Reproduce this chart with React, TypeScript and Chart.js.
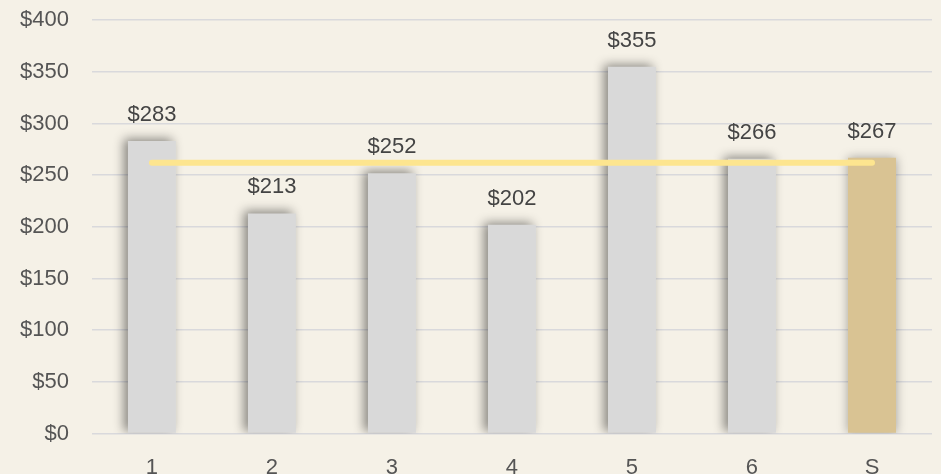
import React, { useEffect, useRef } from "react";
import { Chart, registerables } from "chart.js";

Chart.register(...registerables);

const categories = ["1", "2", "3", "4", "5", "6", "S"];
const roundValues = [283, 213, 252, 202, 355, 266, null];
const summaryValues = [null, null, null, null, null, null, 267];
const averageValues = [262, 262, 262, 262, 262, 262, 262];
const yTicks = [0, 50, 100, 150, 200, 250, 300, 350, 400];

const FONT = "'Liberation Sans', Arial, sans-serif";
const FSIZE = 22;

const shadowPlugin = {
  id: "barShadow",
  beforeDatasetDraw(chart: any, args: any) {
    const ds = chart.data.datasets[args.index] as any;
    const ctx = chart.ctx;
    ctx.save();
    if (ds.shadowKind === "dark") {
      ctx.shadowColor = "rgba(0,0,0,0.45)";
      ctx.shadowBlur = 10;
      ctx.shadowOffsetX = -4;
      ctx.shadowOffsetY = -2;
    } else if (ds.shadowKind === "light") {
      ctx.shadowColor = "rgba(0,0,0,0.35)";
      ctx.shadowBlur = 10;
      ctx.shadowOffsetX = 0;
      ctx.shadowOffsetY = 0;
    }
  },
  afterDatasetDraw(chart: any) {
    chart.ctx.restore();
  },
};

const labelPlugin = {
  id: "barLabels",
  afterDatasetsDraw(chart: any) {
    const ctx = chart.ctx;
    ctx.save();
    ctx.font = `${FSIZE}px ${FONT}`;
    ctx.fillStyle = "#444444";
    ctx.textAlign = "center";
    ctx.textBaseline = "alphabetic";
    chart.data.datasets.forEach((ds: any, i: number) => {
      if (ds.type !== "bar") return;
      const meta = chart.getDatasetMeta(i);
      meta.data.forEach((el: any, j: number) => {
        const v = ds.data[j];
        if (v == null) return;
        ctx.fillText("$" + v, el.x, el.y - 20);
      });
    });
    ctx.restore();
  },
};

export default function App() {
  const ref = useRef<HTMLCanvasElement>(null);
  useEffect(() => {
    document.body.style.margin = "0";
    document.body.style.overflow = "hidden";
    document.body.style.background = "#f5f1e7";
    const chart = new Chart(ref.current!, {
      type: "bar",
      data: {
        labels: categories,
        datasets: [
          {
            type: "line",
            data: averageValues,
            borderColor: "#fde58f",
            borderWidth: 6,
            borderCapStyle: "round",
            pointRadius: 0,
            order: 0,
          } as any,
          {
            type: "bar",
            data: roundValues,
            backgroundColor: "#d9d9d9",
            categoryPercentage: 0.8,
            barPercentage: 0.5,
            grouped: false,
            shadowKind: "dark",
            order: 2,
          } as any,
          {
            type: "bar",
            data: summaryValues,
            backgroundColor: "#d9c393",
            categoryPercentage: 0.8,
            barPercentage: 0.5,
            grouped: false,
            shadowKind: "light",
            order: 1,
          } as any,
        ],
      },
      options: {
        animation: false,
        responsive: true,
        maintainAspectRatio: false,
        layout: { padding: 0 },
        plugins: { legend: { display: false }, tooltip: { enabled: false } },
        scales: {
          x: {
            grid: { display: false, drawTicks: false },
            border: { display: false },
            ticks: { color: "#555555", font: { size: FSIZE, family: FONT }, padding: 21 },
          },
          y: {
            min: 0,
            max: 400,
            afterBuildTicks(axis: any) {
              axis.ticks = yTicks.map((v) => ({ value: v }));
            },
            grid: { color: "#d9d9dc", lineWidth: 1.5, drawTicks: false },
            border: { display: false },
            ticks: {
              color: "#555555",
              font: { size: FSIZE, family: FONT },
              padding: 23,
              callback: (v: any) => "$" + v,
            },
          },
        },
      },
      plugins: [shadowPlugin, labelPlugin],
    });
    return () => chart.destroy();
  }, []);
  return (
    <div style={{ width: 941, height: 474, background: "#f5f1e7", position: "relative", overflow: "hidden" }}>
      <div style={{ position: "absolute", left: -3, top: -16, width: 935, height: 518 }}>
        <canvas ref={ref} />
      </div>
    </div>
  );
}
